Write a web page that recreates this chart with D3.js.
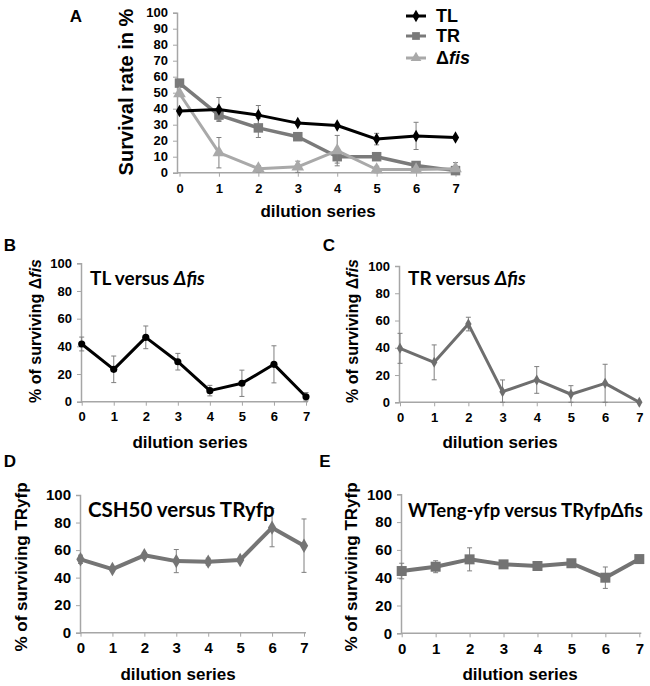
<!DOCTYPE html>
<html><head><meta charset="utf-8">
<script src="https://cdn.jsdelivr.net/npm/d3@7"></script>
<style>
body{margin:0;background:#fff;}
svg{display:block;}
text{font-family:"Liberation Sans",Arial,sans-serif;}
</style></head>
<body><svg id="c" width="650" height="686"></svg>
<script>
const categories = ["0","1","2","3","4","5","6","7"];
// Panel A
const aTL = [38.5, 39.5, 36, 31, 29.5, 21, 23, 22];
const aTLerr = [0, 7.5, 6, 0, 0, 3.6, 8.5, 0];
const aTR = [56, 36, 28, 22.5, 10, 10, 4.5, 1.3];
const aTRerr = [0, 3.5, 6, 0, 4, 0, 0, 5];
const aFis = [49.5, 12.5, 2.5, 3.7, 13.8, 2, 2, 2.5];
const aFisErr = [0, 9.5, 2, 3.5, 9.5, 2, 0, 0];
const aTicks = [0,10,20,30,40,50,60,70,80,90,100];
// Panel B
const bVals = [41.7, 23.4, 46.5, 28.9, 8, 13.3, 27, 3.6];
const bErr = [5, 9.6, 8.2, 6, 3.8, 9.5, 13.4, 3];
// Panel C
const cVals = [39.6, 29.3, 57.4, 7.8, 16.4, 5.9, 13.9, 0];
const cErr = [11, 12.8, 5, 8.6, 9.8, 6.3, 14, 0];
// Panel D
const dVals = [53.3, 46.2, 56.2, 52, 51.6, 52.8, 76.3, 63.2];
const dErr = [3, 1.5, 2, 8.4, 2.5, 1.5, 13.9, 19.4];
// Panel E
const eVals = [44.8, 47.9, 53.2, 49.6, 48.4, 50.4, 40, 53.4];
const eErr = [5.6, 4.3, 8.3, 1, 1, 1, 7.7, 1];
const bTicks = [0,20,40,60,80,100];

const svg = d3.select("#c");
const AXC = "#a6a6a6";

function panel(cfg){
  const g = svg.append("g");
  const x = d3.scalePoint().domain(categories).range([cfg.x0, cfg.x7]);
  const y = d3.scaleLinear().domain([0,100]).range([cfg.y0, cfg.y100]);
  const ya = g.append("g").attr("transform",`translate(${cfg.ax},0)`)
    .call(d3.axisLeft(y).tickValues(cfg.ticks).tickSize(4).tickPadding(cfg.tpad||5));
  ya.select(".domain").attr("stroke",AXC).attr("stroke-width",1.5);
  ya.selectAll(".tick line").attr("stroke",AXC);
  ya.selectAll(".tick text").attr("font-size",cfg.tfs).attr("font-weight","bold").attr("fill","#000")
    .style("font-family","'Liberation Sans',Arial,sans-serif");
  const xa = g.append("g").attr("transform",`translate(0,${cfg.y0})`)
    .call(d3.axisBottom(x).tickSize(4).tickSizeOuter(0).tickPadding(cfg.xpad||6));
  xa.select(".domain").attr("d",`M${cfg.ax},0H${cfg.x7+2}`).attr("stroke",AXC).attr("stroke-width",1.5);
  xa.selectAll(".tick line").attr("stroke",AXC);
  xa.selectAll(".tick text").attr("font-size",cfg.xfs).attr("font-weight","bold").attr("fill","#000")
    .style("font-family","'Liberation Sans',Arial,sans-serif");
  cfg.series.forEach(s=>{
    const data = s.vals.map((v,i)=>({c:categories[i],v,e:s.err[i]}));
    const eb = g.append("g").attr("stroke",s.ecol||"#7f7f7f").attr("stroke-width",1);
    data.filter(d=>d.e>0).forEach(d=>{
      const xx = x(d.c), y1 = y(d.v+d.e), y2 = y(Math.max(0,d.v-d.e));
      eb.append("line").attr("x1",xx).attr("x2",xx).attr("y1",y1).attr("y2",y2);
      eb.append("line").attr("x1",xx-2.5).attr("x2",xx+2.5).attr("y1",y1).attr("y2",y1);
      eb.append("line").attr("x1",xx-2.5).attr("x2",xx+2.5).attr("y1",y2).attr("y2",y2);
    });
    g.append("path").datum(data).attr("fill","none").attr("stroke",s.col).attr("stroke-width",s.lw)
      .attr("stroke-linejoin","round")
      .attr("d",d3.line().x(d=>x(d.c)).y(d=>y(d.v)));
    g.selectAll(null).data(data).enter().append("path")
      .attr("transform",d=>`translate(${x(d.c)},${y(d.v)})`)
      .attr("d",d3.symbol().type(s.sym).size(s.size))
      .attr("fill",s.col);
  });
  g.append("text").attr("x",cfg.letter[0]).attr("y",cfg.letter[1]).attr("font-size",17)
    .attr("font-weight","bold").attr("text-anchor","middle").text(cfg.letterText);
  const yl = g.append("text").attr("transform",`translate(${cfg.ylab[0]},${cfg.ylab[1]}) rotate(-90)`)
    .attr("text-anchor","middle").attr("font-size",cfg.ylfs).attr("font-weight","bold");
  cfg.ylabParts.forEach(p=>yl.append("tspan").attr("font-style",p[1]?"italic":"normal").text(p[0]));
  g.append("text").attr("x",cfg.xlab[0]).attr("y",cfg.xlab[1]).attr("text-anchor","middle")
    .attr("font-size",cfg.xlfs).attr("font-weight","bold").text("dilution series");
  if(cfg.title){
    const t = g.append("text").attr("x",cfg.title[0]).attr("y",cfg.title[1]).attr("font-size",cfg.tsize||19)
      .attr("font-weight","bold").style("font-family","Lato,'Open Sans',sans-serif");
    cfg.titleParts.forEach(p=>t.append("tspan").attr("font-style",p[1]?"italic":"normal").text(p[0]));
  }
  return {x,y};
}

const diamond = d3.symbolDiamond, square = d3.symbolSquare, tri = d3.symbolTriangle, circ = d3.symbolCircle;

panel({x0:179.5,x7:455.5,y0:172.7,y100:12.7,ax:177,ticks:aTicks,tfs:13,xfs:13,xpad:7,
  series:[
    {vals:aTR,err:aTRerr,col:"#7a7a7a",lw:3.5,sym:square,size:90},
    {vals:aFis,err:aFisErr,col:"#a9a9a9",lw:3,sym:tri,size:70},
    {vals:aTL,err:aTLerr,col:"#000",lw:3,sym:diamond,size:45,ecol:"#7f7f7f"}
  ],
  letter:[76,22],letterText:"A",ylab:[133,92],ylfs:20,ylabParts:[["Survival rate in %",false]],
  xlab:[318,217],xlfs:17});

panel({x0:81.7,x7:306,y0:401.7,y100:263.3,ax:81,ticks:bTicks,tfs:13,xfs:13,
  series:[{vals:bVals,err:bErr,col:"#000",lw:3,sym:circ,size:40}],
  letter:[10,251],letterText:"B",ylab:[41,331],ylfs:16,ylabParts:[["% of surviving Δ",false],["fis",true]],
  xlab:[190,448],xlfs:17,title:[90,285],titleParts:[["TL versus ",false],["Δ",true],["fis",true]]});

panel({x0:400,x7:639.3,y0:402.3,y100:266,ax:399,ticks:bTicks,tfs:13,xfs:13,
  series:[{vals:cVals,err:cErr,col:"#6e6e6e",lw:3,sym:diamond,size:35}],
  letter:[329,251],letterText:"C",ylab:[358,331],ylfs:16,ylabParts:[["% of surviving Δ",false],["fis",true]],
  xlab:[500,448],xlfs:17,title:[408,285],titleParts:[["TR versus ",false],["Δ",true],["fis",true]]});

panel({x0:80.5,x7:304,y0:632.7,y100:495,ax:80,ticks:bTicks,tfs:15,xfs:15,
  series:[{vals:dVals,err:dErr,col:"#757575",lw:4,sym:diamond,size:60}],
  letter:[10,467],letterText:"D",ylab:[27,567],ylfs:17,ylabParts:[["% of surviving TRyfp",false]],
  xlab:[178,680],xlfs:17,title:[88,517],tsize:20.5,titleParts:[["CSH50 versus TRyfp",false]]});

panel({x0:401.7,x7:639.3,y0:633.3,y100:494.3,ax:401,ticks:bTicks,tfs:15,xfs:15,
  series:[{vals:eVals,err:eErr,col:"#737373",lw:4,sym:square,size:100}],
  letter:[325,467],letterText:"E",ylab:[357,567],ylfs:17,ylabParts:[["% of surviving TRyfp",false]],
  xlab:[520,680],xlfs:17,title:[408,517],tsize:18.5,titleParts:[["WTeng-yfp versus TRyfpΔfis",false]]});

const legend = [["TL","#000",diamond,45,false],["TR","#7a7a7a",square,60,false],["Δfis","#a9a9a9",tri,50,true]];
const legendY = [16,36,58];
const lg = svg.append("g");
legend.forEach((l,i)=>{
  const yy = legendY[i];
  lg.append("line").attr("x1",406).attr("x2",426).attr("y1",yy).attr("y2",yy).attr("stroke",l[1]).attr("stroke-width",3);
  lg.append("path").attr("transform",`translate(416,${yy})`).attr("d",d3.symbol().type(l[2]).size(l[3])).attr("fill",l[1]);
  const t = lg.append("text").attr("x",436).attr("y",yy+6).attr("font-size",18).attr("font-weight","bold");
  if(l[4]){ t.append("tspan").text("Δ"); t.append("tspan").attr("font-style","italic").text("fis"); }
  else t.text(l[0]);
});
</script></body></html>
